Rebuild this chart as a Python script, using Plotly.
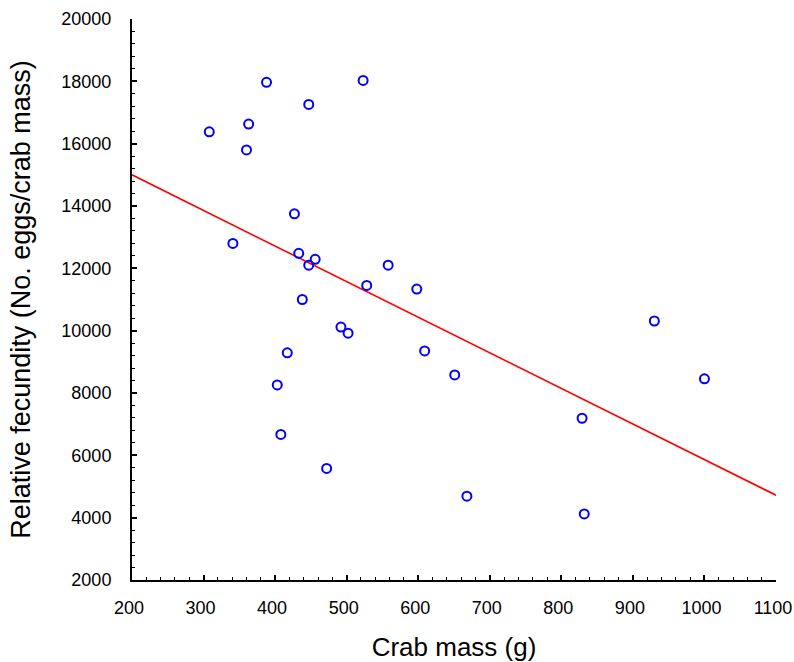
import plotly.graph_objects as go

crab_mass = [308, 388, 363, 360, 447, 523, 427, 341, 433, 447, 456, 558, 528, 598,
             438, 492, 502, 417, 403, 408, 472, 609, 651, 668, 829, 832, 930, 1000]
fecundity = [16380, 17970, 16630, 15800, 17260, 18030, 13750, 12800, 12480, 12100, 12290, 12100, 11450, 11335,
             11000, 10115, 9920, 9290, 8260, 6670, 5580, 9350, 8580, 4690, 7190, 4120, 10310, 8455]

fit_x = [200, 1100]
fit_y = [15000, 4720]

x_ticks = [200, 300, 400, 500, 600, 700, 800, 900, 1000, 1100]
y_ticks = [2000, 4000, 6000, 8000, 10000, 12000, 14000, 16000, 18000, 20000]

fig = go.Figure()
fig.add_trace(go.Scatter(x=fit_x, y=fit_y, mode="lines",
                         line=dict(color="#ff0000", width=1.6), showlegend=False))
fig.add_trace(go.Scatter(x=crab_mass, y=fecundity, mode="markers",
                         marker=dict(symbol="circle-open", size=9, color="#0000ff",
                                     line=dict(width=2, color="#0000ff")),
                         showlegend=False))

font = "Liberation Sans, Arial, sans-serif"
fig.update_layout(
    width=794, height=662,
    margin=dict(l=132, r=18, t=19, b=82),
    plot_bgcolor="white", paper_bgcolor="white",
    font=dict(family=font, color="black"),
)
fig.update_xaxes(
    range=[200, 1100], tickvals=x_ticks, ticktext=[str(v) for v in x_ticks],
    automargin=False, ticklabeloverflow="allow", ticklabelshift=-3,
    showgrid=False, zeroline=False, showline=True, linecolor="black", linewidth=2,
    ticks="inside", ticklen=5, tickwidth=1.5, tickcolor="black",
    minor=dict(dtick=20, ticks="inside", ticklen=3, tickwidth=1, tickcolor="black"),
    tickfont=dict(size=18, family=font), ticklabelstandoff=10,
    title=dict(text="Crab mass (g)", font=dict(size=26, family=font), standoff=22),
)
fig.update_yaxes(
    range=[2000, 20000], tickvals=y_ticks, ticktext=[str(v) for v in y_ticks],
    automargin=False, ticklabeloverflow="allow",
    showgrid=False, zeroline=False, showline=True, linecolor="black", linewidth=2,
    ticks="inside", ticklen=5, tickwidth=1.5, tickcolor="black",
    minor=dict(dtick=400, ticks="inside", ticklen=3, tickwidth=1, tickcolor="black"),
    tickfont=dict(size=18, family=font), ticklabelstandoff=15,
    title=dict(text="Relative fecundity (No. eggs/crab mass)", font=dict(size=27, family=font), standoff=23),
)

fig.write_html("out.html", config={"displayModeBar": False},
               post_script="document.body.style.margin='0';")
